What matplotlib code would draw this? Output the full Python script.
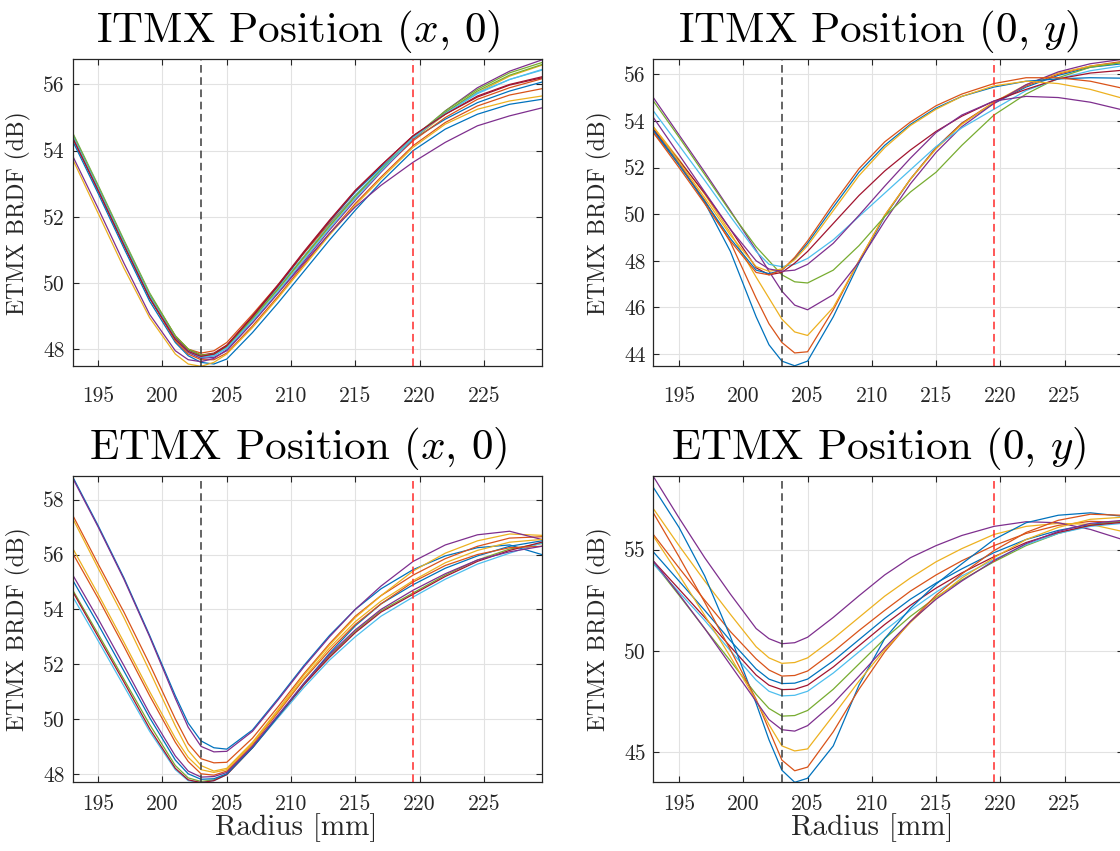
import matplotlib
matplotlib.use('Agg')
import matplotlib.pyplot as plt

plt.rcParams['font.family'] = 'cmr10'
plt.rcParams['mathtext.fontset'] = 'cm'
plt.rcParams['axes.formatter.use_mathtext'] = True

# ---------------- data ----------------
radius = [193, 195, 197, 199, 201, 202, 203, 204, 205, 207, 209, 211, 213, 215, 217, 219.5, 222, 224.5, 227, 229.5]

B, O, Y, P, G, L, R = '#0072BD', '#D95319', '#EDB120', '#7E2F8E', '#77AC30', '#4DBEEE', '#A2142F'

itmx_x_colors = [B, O, Y, P, G, L, R, B, O, Y, P, G, L, R]
itmx_x_curves = [
    [54.40, 52.80, 51.15, 49.55, 48.30, 47.92, 47.75, 47.80, 48.05, 48.95, 49.90, 50.90, 51.85, 52.75, 53.50, 54.35, 54.95, 55.45, 55.80, 56.07],
    [54.50, 52.90, 51.25, 49.65, 48.40, 48.00, 47.88, 47.95, 48.20, 49.05, 49.95, 50.90, 51.80, 52.65, 53.40, 54.30, 55.00, 55.55, 55.90, 56.17],
    [54.45, 52.85, 51.20, 49.60, 48.35, 47.95, 47.78, 47.82, 48.05, 48.90, 49.80, 50.75, 51.70, 52.60, 53.40, 54.35, 55.10, 55.75, 56.25, 56.58],
    [54.40, 52.80, 51.15, 49.55, 48.30, 47.90, 47.72, 47.75, 47.95, 48.80, 49.70, 50.65, 51.60, 52.50, 53.35, 54.35, 55.20, 55.90, 56.40, 56.74],
    [54.55, 52.95, 51.30, 49.70, 48.40, 48.00, 47.82, 47.85, 48.10, 48.95, 49.85, 50.80, 51.75, 52.65, 53.45, 54.40, 55.20, 55.85, 56.35, 56.66],
    [54.50, 52.90, 51.25, 49.65, 48.35, 47.95, 47.78, 47.82, 48.05, 48.90, 49.85, 50.80, 51.75, 52.65, 53.45, 54.40, 55.15, 55.75, 56.15, 56.43],
    [54.45, 52.85, 51.20, 49.60, 48.35, 47.98, 47.82, 47.88, 48.12, 49.00, 49.95, 50.95, 51.90, 52.80, 53.55, 54.45, 55.10, 55.65, 56.00, 56.23],
    [54.30, 52.70, 51.05, 49.45, 48.20, 47.80, 47.60, 47.55, 47.70, 48.50, 49.40, 50.35, 51.30, 52.20, 53.05, 54.00, 54.65, 55.10, 55.40, 55.55],
    [54.40, 52.80, 51.15, 49.55, 48.25, 47.85, 47.68, 47.68, 47.88, 48.70, 49.60, 50.55, 51.50, 52.40, 53.20, 54.15, 54.85, 55.35, 55.68, 55.87],
    [53.75, 52.10, 50.45, 48.95, 47.85, 47.55, 47.48, 47.60, 47.85, 48.65, 49.55, 50.50, 51.45, 52.35, 53.15, 54.10, 54.80, 55.25, 55.50, 55.65],
    [53.85, 52.25, 50.60, 49.05, 47.95, 47.68, 47.62, 47.72, 47.98, 48.80, 49.70, 50.60, 51.50, 52.30, 52.95, 53.65, 54.25, 54.75, 55.05, 55.29],
    [54.50, 52.90, 51.25, 49.65, 48.40, 48.00, 47.82, 47.85, 48.08, 48.92, 49.82, 50.78, 51.72, 52.62, 53.42, 54.38, 55.15, 55.80, 56.28, 56.60],
    [54.45, 52.85, 51.20, 49.60, 48.32, 47.93, 47.76, 47.80, 48.02, 48.85, 49.75, 50.70, 51.65, 52.55, 53.38, 54.38, 55.12, 55.72, 56.15, 56.45],
    [54.40, 52.80, 51.15, 49.55, 48.30, 47.93, 47.78, 47.85, 48.10, 48.98, 49.92, 50.92, 51.88, 52.78, 53.55, 54.45, 55.10, 55.62, 55.98, 56.20],
]

itmx_y_colors = [B, O, Y, P, G, L, R, B, O, Y, P]
itmx_y_curves = [
    [53.60, 52.20, 50.50, 48.40, 45.60, 44.40, 43.70, 43.50, 43.70, 45.60, 47.90, 49.90, 51.50, 52.85, 53.90, 54.75, 55.45, 55.95, 56.30, 56.45],
    [53.50, 52.15, 50.60, 48.80, 46.40, 45.30, 44.50, 44.05, 44.10, 45.90, 48.00, 49.95, 51.50, 52.85, 53.90, 54.80, 55.50, 56.00, 56.35, 56.55],
    [53.75, 52.35, 50.85, 49.20, 47.30, 46.40, 45.50, 44.95, 44.80, 46.00, 48.00, 49.95, 51.50, 52.80, 53.85, 54.80, 55.55, 56.05, 56.35, 56.50],
    [55.00, 53.40, 51.80, 50.15, 48.45, 47.55, 46.70, 46.10, 45.90, 46.55, 47.95, 49.70, 51.30, 52.65, 53.75, 54.75, 55.55, 56.10, 56.45, 56.64],
    [54.86, 53.30, 51.70, 50.10, 48.60, 48.00, 47.40, 47.10, 47.05, 47.60, 48.65, 49.90, 50.95, 51.80, 52.95, 54.25, 55.15, 55.85, 56.30, 56.50],
    [54.43, 52.95, 51.45, 49.90, 48.40, 47.85, 47.75, 47.85, 48.10, 48.90, 49.90, 50.90, 51.90, 52.90, 53.70, 54.50, 55.30, 55.80, 56.15, 56.36],
    [53.65, 52.30, 50.90, 49.35, 47.70, 47.40, 47.50, 47.90, 48.40, 49.60, 50.80, 51.85, 52.75, 53.55, 54.20, 54.85, 55.35, 55.80, 56.05, 56.17],
    [53.60, 52.10, 50.55, 48.95, 47.60, 47.45, 47.60, 48.10, 48.75, 50.30, 51.80, 52.95, 53.85, 54.55, 55.05, 55.45, 55.70, 55.80, 55.85, 55.83],
    [53.50, 52.00, 50.45, 48.85, 47.50, 47.40, 47.60, 48.15, 48.85, 50.45, 51.95, 53.10, 53.95, 54.65, 55.15, 55.60, 55.85, 55.85, 55.70, 55.40],
    [53.75, 52.25, 50.70, 49.10, 47.75, 47.55, 47.65, 48.05, 48.65, 50.15, 51.65, 52.85, 53.80, 54.50, 55.05, 55.50, 55.70, 55.60, 55.35, 54.97],
    [54.15, 52.55, 50.95, 49.35, 48.00, 47.65, 47.55, 47.60, 47.85, 48.75, 49.95, 51.20, 52.40, 53.50, 54.25, 54.85, 55.05, 55.00, 54.80, 54.47],
]

etmx_x_colors = [B, O, Y, P, G, L, R, B, O, Y, P]
etmx_x_curves = [
    [58.85, 57.05, 55.15, 53.05, 50.85, 49.85, 49.20, 48.95, 48.90, 49.60, 50.75, 51.95, 53.05, 54.00, 54.75, 55.45, 55.95, 56.25, 56.35, 56.00],
    [57.45, 55.65, 53.90, 52.00, 50.00, 49.10, 48.55, 48.40, 48.42, 49.30, 50.45, 51.65, 52.75, 53.75, 54.50, 55.25, 55.85, 56.30, 56.60, 56.65],
    [57.33, 55.50, 53.70, 51.75, 49.75, 48.85, 48.30, 48.10, 48.20, 49.15, 50.35, 51.60, 52.70, 53.70, 54.50, 55.40, 56.05, 56.50, 56.75, 56.70],
    [58.80, 57.00, 55.10, 53.00, 50.75, 49.70, 49.00, 48.80, 48.82, 49.55, 50.70, 51.90, 53.00, 54.00, 54.85, 55.75, 56.35, 56.72, 56.85, 56.55],
    [54.72, 53.10, 51.45, 49.80, 48.30, 47.85, 47.72, 47.78, 47.98, 48.95, 50.10, 51.25, 52.30, 53.20, 53.95, 54.60, 55.25, 55.80, 56.20, 56.40],
    [54.48, 52.85, 51.20, 49.55, 48.15, 47.75, 47.68, 47.75, 47.97, 48.95, 50.05, 51.15, 52.15, 53.00, 53.75, 54.45, 55.10, 55.65, 56.05, 56.42],
    [54.66, 53.00, 51.35, 49.65, 48.20, 47.78, 47.68, 47.75, 47.97, 48.95, 50.10, 51.25, 52.25, 53.15, 53.90, 54.55, 55.20, 55.75, 56.15, 56.45],
    [55.08, 53.45, 51.75, 50.05, 48.50, 48.00, 47.80, 47.82, 48.00, 48.95, 50.10, 51.30, 52.40, 53.40, 54.20, 54.90, 55.50, 55.95, 56.30, 56.50],
    [56.06, 54.40, 52.65, 50.85, 49.15, 48.45, 48.00, 47.95, 48.10, 49.05, 50.25, 51.45, 52.50, 53.45, 54.20, 55.00, 55.60, 56.00, 56.25, 56.30],
    [56.24, 54.55, 52.80, 51.00, 49.30, 48.60, 48.15, 48.05, 48.15, 49.10, 50.30, 51.50, 52.60, 53.55, 54.30, 55.05, 55.70, 56.15, 56.45, 56.55],
    [55.27, 53.65, 51.95, 50.20, 48.65, 48.10, 47.88, 47.90, 48.05, 49.00, 50.15, 51.30, 52.35, 53.25, 54.00, 54.70, 55.30, 55.80, 56.10, 56.30],
]

etmx_y_colors = [B, O, Y, P, G, L, R, B, O, Y, P]
etmx_y_curves = [
    [54.89, 53.45, 52.00, 50.50, 49.10, 48.60, 48.38, 48.40, 48.60, 49.50, 50.55, 51.60, 52.55, 53.35, 54.05, 54.85, 55.50, 55.95, 56.25, 56.40],
    [55.75, 54.10, 52.50, 50.95, 49.60, 49.05, 48.75, 48.78, 49.00, 49.95, 51.00, 52.00, 52.95, 53.75, 54.45, 55.20, 55.80, 56.20, 56.40, 56.35],
    [57.03, 55.20, 53.45, 51.80, 50.20, 49.65, 49.38, 49.42, 49.65, 50.60, 51.65, 52.70, 53.60, 54.40, 55.05, 55.75, 56.15, 56.30, 56.25, 55.90],
    [58.62, 56.57, 54.60, 52.80, 51.10, 50.60, 50.35, 50.40, 50.67, 51.65, 52.72, 53.75, 54.60, 55.20, 55.70, 56.15, 56.38, 56.33, 56.00, 55.50],
    [54.36, 52.75, 51.10, 49.50, 47.85, 47.15, 46.77, 46.80, 47.05, 48.10, 49.35, 50.60, 51.70, 52.65, 53.50, 54.40, 55.20, 55.80, 56.20, 56.40],
    [54.30, 52.90, 51.50, 50.00, 48.55, 48.00, 47.77, 47.80, 48.00, 48.90, 49.95, 51.00, 52.00, 52.90, 53.70, 54.50, 55.25, 55.80, 56.15, 56.30],
    [54.44, 53.05, 51.65, 50.20, 48.80, 48.30, 48.08, 48.10, 48.30, 49.20, 50.25, 51.30, 52.25, 53.10, 53.85, 54.65, 55.35, 55.85, 56.20, 56.35],
    [58.08, 56.10, 53.70, 50.70, 47.40, 45.60, 44.10, 43.50, 43.70, 45.30, 48.30, 50.60, 52.10, 53.30, 54.30, 55.50, 56.33, 56.70, 56.82, 56.65],
    [56.82, 54.65, 52.40, 50.05, 47.60, 46.10, 44.60, 44.07, 44.25, 46.00, 48.10, 49.95, 51.45, 52.75, 53.80, 54.95, 55.85, 56.45, 56.75, 56.70],
    [55.67, 53.75, 51.75, 49.70, 47.55, 46.35, 45.30, 45.05, 45.15, 46.80, 48.50, 50.05, 51.40, 52.60, 53.60, 54.60, 55.50, 56.10, 56.50, 56.60],
    [54.44, 52.80, 51.10, 49.30, 47.50, 46.60, 46.10, 46.03, 46.30, 47.40, 48.75, 50.15, 51.45, 52.55, 53.45, 54.45, 55.30, 55.90, 56.30, 56.45],
]

titles = ['ITMX Position ($x$, 0)', 'ITMX Position (0, $y$)', 'ETMX Position ($x$, 0)', 'ETMX Position (0, $y$)']
ylims = [(47.49, 56.76), (43.49, 56.64), (47.69, 58.88), (43.50, 58.66)]
yticks = [[48, 50, 52, 54, 56], [44, 46, 48, 50, 52, 54, 56], [48, 50, 52, 54, 56, 58], [45, 50, 55]]
xticks = [195, 200, 205, 210, 215, 220, 225]
x_black = 203.0
x_red = 219.5

# ---------------- layout ----------------
W, H = 1120, 851
fig = plt.figure(figsize=(W / 100, H / 100), dpi=100)
ax_w = 469.2 / W
ax_h = 306.7 / H
lefts = [72.5 / W, 653.3 / W]
bottoms = [1 - 366.0 / H, 1 - 782.3 / H]

panels = [
    (itmx_x_curves, itmx_x_colors),
    (itmx_y_curves, itmx_y_colors),
    (etmx_x_curves, etmx_x_colors),
    (etmx_y_curves, etmx_y_colors),
]

dark = '#262626'
for i, (curves, colors) in enumerate(panels):
    row, col = divmod(i, 2)
    ax = fig.add_axes([lefts[col], bottoms[row], ax_w, ax_h])
    for c, ys in zip(colors, curves):
        ax.plot(radius, ys, color=c, lw=0.9, solid_joinstyle='round')
    ax.axvline(x_black, color='#3a3a3a', lw=1.1, dashes=(5, 3))
    ax.axvline(x_red, color='#ff2a2a', lw=1.1, dashes=(5, 3))
    ax.set_xlim(193, 229.5)
    ax.set_ylim(*ylims[i])
    ax.set_xticks(xticks)
    ax.set_xticklabels([str(v) for v in xticks])
    ax.set_yticks(yticks[i])
    ax.set_yticklabels([str(v) for v in yticks[i]])
    ax.grid(True, color='#e2e2e2', lw=0.8)
    ax.set_axisbelow(True)
    ax.tick_params(axis='both', direction='in', length=4, width=0.8,
                   top=True, right=True, labelsize=15.5, colors=dark)
    ax.tick_params(axis='y', pad=5.5)
    ax.tick_params(axis='x', pad=15 if row == 0 else 8.5)
    for s in ax.spines.values():
        s.set_color(dark)
        s.set_linewidth(0.9)
    ax.text(0.48, 1 + 17 / 306.7, titles[i], transform=ax.transAxes,
            ha='center', va='baseline', fontsize=31, color='black')
    ax.set_ylabel('ETMX BRDF (dB)', fontsize=17, color=dark)
    ax.yaxis.set_label_coords(-0.088, 0.5)
    if row == 1:
        ax.set_xlabel('Radius [mm]', fontsize=21, color=dark)
        ax.xaxis.set_label_coords(0.477 if col == 0 else 0.466, -0.10)

fig.savefig('out.png', dpi=100)
